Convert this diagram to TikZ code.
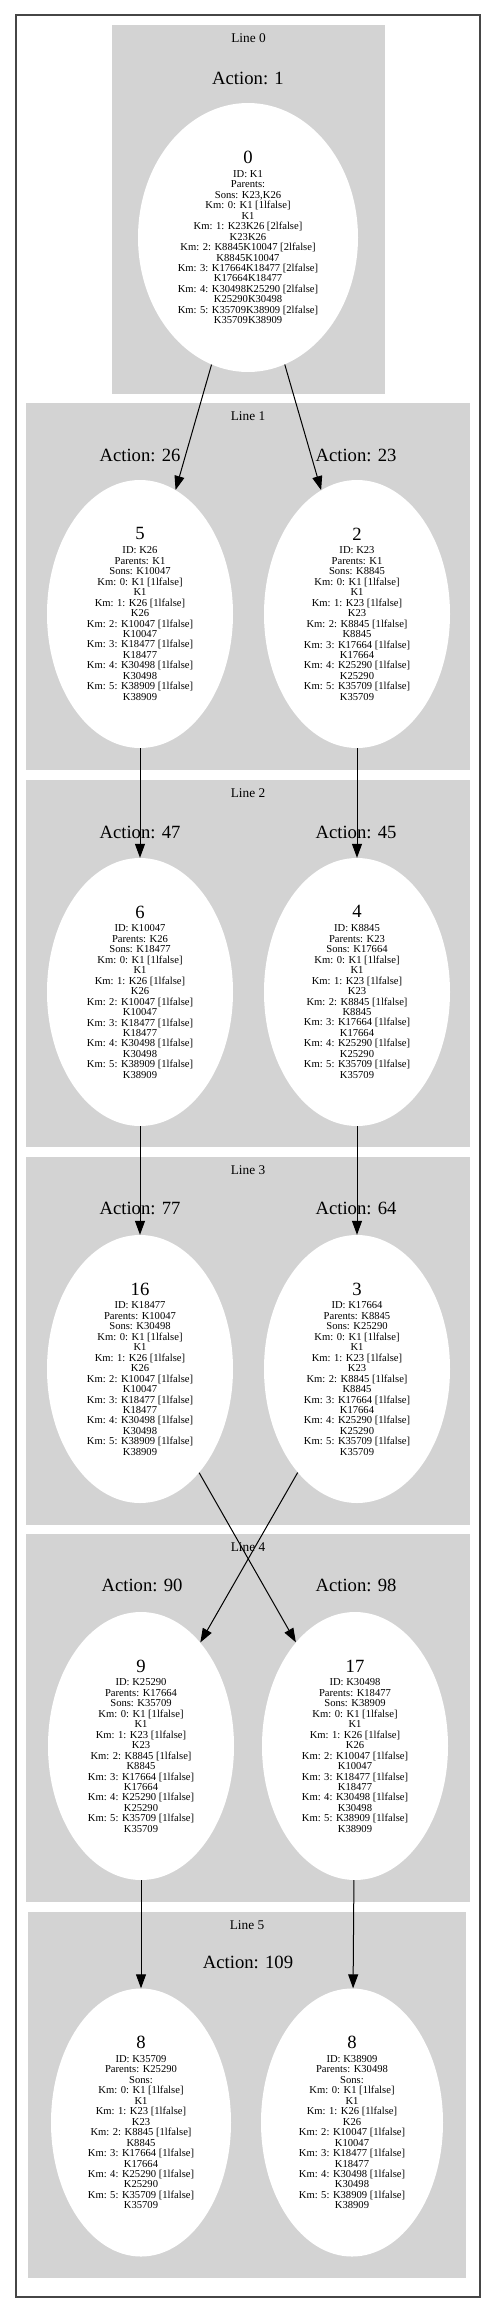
\documentclass[tikz,border=0pt]{standalone}
\usepackage{fontspec}
\setmainfont{Liberation Serif}
\usetikzlibrary{arrows.meta, shapes.geometric}
\definecolor{clusc}{RGB}{211,211,211}
\definecolor{framec}{RGB}{70,70,70}
\tikzset{
  state/.style={
    ellipse, fill=white, draw=none, inner sep=0pt,
    minimum width=186pt, minimum height=268pt, align=center,
    font=\fontsize{10.6}{10.45}\selectfont
  },
  act/.style={font=\fontsize{18.67}{20}\selectfont, inner sep=0pt},
  lname/.style={font=\fontsize{13.33}{15}\selectfont, inner sep=0pt},
  arr/.style={-{Triangle[length=14pt, width=10pt]}, line width=1pt, draw=black},
  gframe/.style={draw=framec, line width=1.4pt},
}
\newcommand{\stno}[1]{{\fontsize{18.67}{20}\selectfont #1}\\[3.5pt]}
% key maps along the K23 branch and the K26 branch
\newcommand{\kmfromtwo}{Km: 0: K1 [1lfalse]\\K1\\Km: 1: K23 [1lfalse]\\K23\\
  Km: 2: K8845 [1lfalse]\\K8845\\Km: 3: K17664 [1lfalse]\\K17664\\
  Km: 4: K25290 [1lfalse]\\K25290\\Km: 5: K35709 [1lfalse]\\K35709}
\newcommand{\kmfromfive}{Km: 0: K1 [1lfalse]\\K1\\Km: 1: K26 [1lfalse]\\K26\\
  Km: 2: K10047 [1lfalse]\\K10047\\Km: 3: K18477 [1lfalse]\\K18477\\
  Km: 4: K30498 [1lfalse]\\K30498\\Km: 5: K38909 [1lfalse]\\K38909}

\begin{document}
\begin{tikzpicture}[x=1pt, y=-1pt]

  \useasboundingbox (0,0) rectangle (496,2305);

  \foreach \k/\xa/\ya/\xb/\yb in {0/112/25/385/394, 1/26/403/470/770,
      2/26/780/470/1147, 3/26/1157/470/1525, 4/26/1534/470/1902,
      5/28/1912/466/2278} {
    \fill[clusc] (\xa,\ya) rectangle (\xb,\yb);
    \node[lname] (line\k) at ({(\xa+\xb)/2},{\ya+13}) {Line \k};
  }

  \draw[gframe] (16,15) rectangle (480,2297);

  \node[act] (a0) at (248,78) {Action: 1};
  \node[act] (a5) at (140,455) {Action: 26};
  \node[act] (a2) at (356,455) {Action: 23};
  \node[act] (a6) at (140,832) {Action: 47};
  \node[act] (a4) at (356,832) {Action: 45};
  \node[act] (a16) at (140,1208) {Action: 77};
  \node[act] (a3) at (356,1208) {Action: 64};
  \node[act] (a9) at (142,1585) {Action: 90};
  \node[act] (a17) at (356,1585) {Action: 98};
  \node[act] (a8) at (248,1962) {Action: 109};

  \node[state, minimum width=220pt, minimum height=269pt] (n0) at (248,237.5)
    {\stno{0}ID: K1\\Parents:\\Sons: K23,K26\\Km: 0: K1 [1lfalse]\\K1\\
     Km: 1: K23K26 [2lfalse]\\K23K26\\Km: 2: K8845K10047 [2lfalse]\\K8845K10047\\
     Km: 3: K17664K18477 [2lfalse]\\K17664K18477\\Km: 4: K30498K25290 [2lfalse]\\
     K25290K30498\\Km: 5: K35709K38909 [2lfalse]\\K35709K38909};

  \node[state] (n5) at (140,614)
    {\stno{5}ID: K26\\Parents: K1\\Sons: K10047\\\kmfromfive};
  \node[state] (n2) at (357,614)
    {\stno{2}ID: K23\\Parents: K1\\Sons: K8845\\\kmfromtwo};

  \node[state] (n6) at (140,992)
    {\stno{6}ID: K10047\\Parents: K26\\Sons: K18477\\\kmfromfive};
  \node[state] (n4) at (357,992)
    {\stno{4}ID: K8845\\Parents: K23\\Sons: K17664\\\kmfromtwo};

  \node[state] (n16) at (140,1369)
    {\stno{16}ID: K18477\\Parents: K10047\\Sons: K30498\\\kmfromfive};
  \node[state] (n3) at (357,1369)
    {\stno{3}ID: K17664\\Parents: K8845\\Sons: K25290\\\kmfromtwo};

  \node[state] (n9) at (141,1746)
    {\stno{9}ID: K25290\\Parents: K17664\\Sons: K35709\\\kmfromtwo};
  \node[state] (n17) at (355,1746)
    {\stno{17}ID: K30498\\Parents: K18477\\Sons: K38909\\\kmfromfive};

  \node[state, minimum width=180pt] (n8a) at (141,2122.5)
    {\stno{8}ID: K35709\\Parents: K25290\\Sons:\\\kmfromtwo};
  \node[state, minimum width=182pt] (n8b) at (352,2122.5)
    {\stno{8}ID: K38909\\Parents: K30498\\Sons:\\\kmfromfive};

  \foreach \a/\b in {n0/n5, n0/n2, n5/n6, n2/n4, n6/n16, n4/n3,
      n16/n17, n3/n9, n9/n8a, n17/n8b} {
    \draw[arr] (\a) -- (\b);
  }

\end{tikzpicture}
\end{document}
